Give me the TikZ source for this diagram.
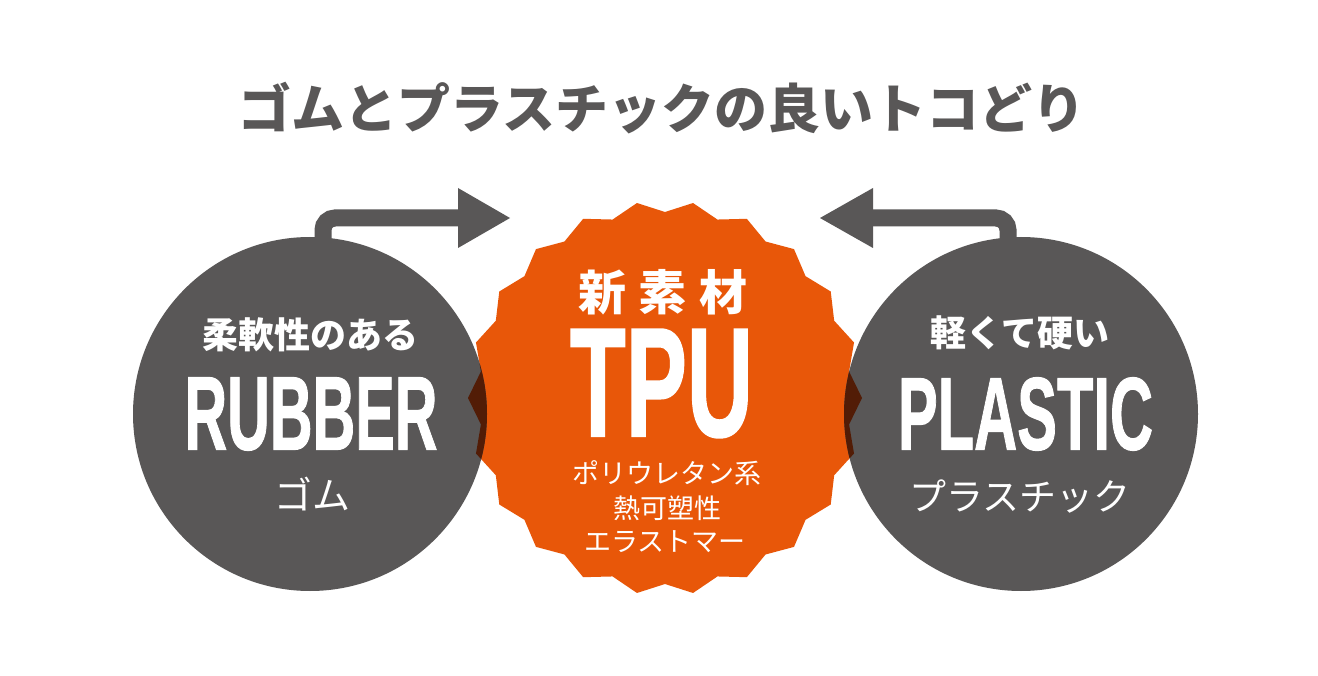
\documentclass[tikz,border=0pt]{standalone}
\usepackage{fontspec}
\usepackage{graphicx}
\usetikzlibrary{calc}
\newfontfamily\jp{Noto Sans CJK JP}
\newfontfamily\cond{Liberation Sans}[BoldFeatures={FakeBold=1.2}]
\definecolor{dgray}{HTML}{595757}
\definecolor{tpuor}{HTML}{E85709}
\definecolor{overlap}{RGB}{82,28,6}
\begin{document}
\begin{tikzpicture}[x=1pt,y=-1pt,
  circ/.style={circle, fill=dgray, minimum size=354pt, inner sep=0pt},
  conn/.style={draw=dgray, line width=17pt, rounded corners=12pt},
  headfill/.style={fill=dgray},
  txt/.style={text=white, inner sep=0pt},
  big/.style={txt},
  jpbold/.style={txt, font=\jp\bfseries\fontsize{#1}{#1}\selectfont},
  jpreg/.style={txt, font=\jp\fontsize{#1}{#1}\selectfont},
]
\useasboundingbox (0,0) rectangle (1318,676);
\fill[white] (0,0) rectangle (1318,676);
\def\burst{plot[samples at={0,...,43}] ({\x*360/44}:{197-11*mod(\x,2)}) -- cycle}

% arrows
\coordinate (s1) at (323,300);
\coordinate (h1) at (460,218);
\coordinate (t1) at (510,218);
\draw[conn] (s1) |- (h1);
\fill[headfill] ($(h1)+(-2,-30)$) -- (t1) -- ($(h1)+(-2,30)$) -- cycle;
\coordinate (s2) at (1008,300);
\coordinate (h2) at (871,218);
\coordinate (t2) at (820,218);
\draw[conn] (s2) |- (h2);
\fill[headfill] ($(h2)+(2,-30)$) -- (t2) -- ($(h2)+(2,30)$) -- cycle;

% starburst
\begin{scope}[shift={(665,398)}]
  \fill[tpuor] \burst;
\end{scope}
% circles
\node[circ] (rub) at (310,414) {};
\node[circ] (pla) at (1021,414) {};
% overlaps
\begin{scope}
  \clip (rub.center) circle[radius=177];
  \begin{scope}[shift={(665,398)}]\fill[overlap] \burst;\end{scope}
\end{scope}
\begin{scope}
  \clip (pla.center) circle[radius=177];
  \begin{scope}[shift={(665,398)}]\fill[overlap] \burst;\end{scope}
\end{scope}

% title
\node[font=\jp\bfseries\fontsize{53}{60}\selectfont, text=dgray] (title) at (662,108) {ゴムとプラスチックの良いトコどり};

% left circle text
\node[jpbold=36] (rubsub) at (310,335) {柔軟性のある};
\node[big] (rubber) at (311,414) {\resizebox{253pt}{72pt}{\cond\bfseries RUBBER}};
\node[jpreg=38] (gomu) at (312,494) {ゴム};

% center text
\node[jpbold=48] (shin) at (663,292) {新\hspace{13pt}素\hspace{13pt}材};
\node[big] (tpu) at (661.5,383.5) {\resizebox{183pt}{107pt}{\cond\bfseries TPU}};
\node[jpreg=27] (l1) at (667,473) {ポリウレタン系};
\node[jpreg=27] (l2) at (667,508) {熱可塑性};
\node[jpreg=27] (l3) at (665,542) {エラストマー};

% right circle text
\node[jpbold=36] (plasub) at (1020,333) {軽くて硬い};
\node[big] (plastic) at (1025.5,414) {\resizebox{255pt}{72pt}{\cond\bfseries PLASTIC}};
\node[jpreg=37] (pura) at (1020,497) {プラスチック};
\end{tikzpicture}
\end{document}
